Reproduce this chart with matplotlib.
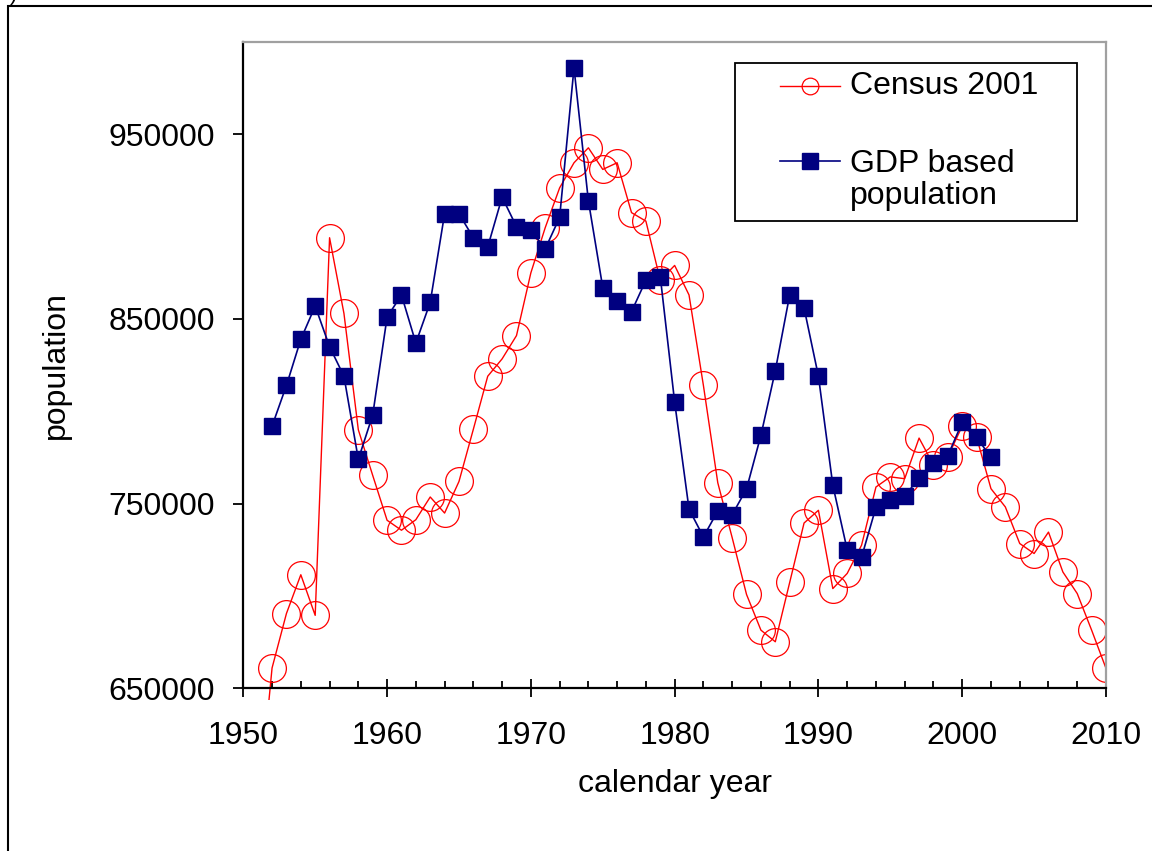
"""Census 2001 vs GDP-based population by calendar year (Excel-style line chart)."""
import matplotlib
matplotlib.use("Agg")
import matplotlib.pyplot as plt
from matplotlib.lines import Line2D
from matplotlib.patches import Rectangle
from matplotlib.ticker import MultipleLocator
from matplotlib.transforms import Bbox, TransformedBbox

plt.rcParams["font.family"] = ["Liberation Sans", "DejaVu Sans"]

# ---- data ----
census_label = "Census 2001"
census_years = list(range(1951, 2011))
census_pop = [580000, 661000, 690500, 711500, 689500, 894000, 853000, 790000, 765300, 741000,
              735600, 741300, 753600, 744900, 762000, 790300, 819000, 828400, 841000, 875000,
              899500, 921000, 934600, 942700, 931000, 934600, 907600, 903000, 871000, 879000,
              863000, 814000, 761300, 731600, 700800, 681500, 675200, 707300, 739500, 746400,
              704000, 712200, 727500, 759000, 764500, 763500, 785500, 771000, 775400, 792000,
              786000, 758100, 748200, 728400, 723000, 734600, 713000, 701300, 681500, 660800]

gdp_label = "GDP based\npopulation"
gdp_years = list(range(1952, 2003))
gdp_pop = [792000, 814000, 839000, 857000, 835000, 819000, 774000, 798000, 851000, 863000,
           837000, 859000, 907000, 907000, 894000, 889000, 916000, 900000, 898000, 888000,
           905000, 986000, 914000, 867000, 860000, 854000, 871000, 873000, 805000, 747000,
           732000, 746000, 744000, 758000, 787000, 822000, 863000, 856000, 819000, 760000,
           725000, 721000, 748000, 752000, 754000, 764000, 772000, 776000, 794000, 786000,
           775000]

y_ticks = [650000, 750000, 850000, 950000]
x_ticks = [1950, 1960, 1970, 1980, 1990, 2000, 2010]

W, H = 1152, 851
RED, NAVY = "#ff0000", "#000080"
FS = 23

fig = plt.figure(figsize=(W / 100, H / 100), dpi=100, facecolor="white")
ax = fig.add_axes([243.3 / W, 1 - 688.3 / H, (1106 - 243.3) / W, (688.3 - 42) / H])

cl, = ax.plot(census_years, census_pop, color=RED, lw=1.0, marker="o", ms=20,
              mfc="none", mec=RED, mew=0.9, zorder=2)
# Excel lets the first census segment poke a little below the x axis
cl.set_clip_path(None)
cl.set_clip_box(TransformedBbox(Bbox([[0, -0.018], [1, 1]]), ax.transAxes))

ax.plot(gdp_years, gdp_pop, color=NAVY, lw=1.2, marker="s", ms=11,
        mfc=NAVY, mec=NAVY, zorder=3)

ax.set_xlim(1950, 2010)
ax.set_ylim(650000, 1000000)
ax.set_xticks(x_ticks)
ax.xaxis.set_minor_locator(MultipleLocator(2))
ax.set_yticks(y_ticks)
ax.set_yticklabels([str(v) for v in y_ticks])

ax.tick_params(axis="x", which="major", direction="inout", length=13, width=1.3,
               pad=17, labelsize=FS, colors="black")
ax.tick_params(axis="x", which="minor", direction="in", length=5, width=1.3)
ax.tick_params(axis="y", which="major", direction="out", length=7.5, width=1.3,
               pad=13, labelsize=FS)

for s in ("left", "bottom"):
    ax.spines[s].set_color("black")
    ax.spines[s].set_linewidth(1.6)
for s in ("top", "right"):
    ax.spines[s].set_color("#a0a0a0")
    ax.spines[s].set_linewidth(1.6)

ax.set_xlabel("calendar year", fontsize=FS)
ax.xaxis.set_label_coords(0.5, -0.125)
ax.set_ylabel("population", fontsize=FS)
ax.yaxis.set_label_coords(-0.2, 0.5)

# ---- Excel-style legend box drawn in figure pixels ----
def fx(px):
    return px / W


def fy(py):
    return 1 - py / H


fig.add_artist(Rectangle((fx(735), fy(221)), fx(1077) - fx(735), fy(63) - fy(221),
                         transform=fig.transFigure, fill=False, ec="black", lw=1.3))
fig.add_artist(Line2D([fx(780), fx(840)], [fy(86), fy(86)], color=RED, lw=1.0))
fig.add_artist(Line2D([fx(810)], [fy(86)], marker="o", ms=12, mfc="none", mec=RED, mew=0.9))
fig.text(fx(850), fy(86), census_label, fontsize=FS, va="center", ha="left")
fig.add_artist(Line2D([fx(780), fx(840)], [fy(161), fy(161)], color=NAVY, lw=1.2))
fig.add_artist(Line2D([fx(810)], [fy(161)], marker="s", ms=11, mfc=NAVY, mec=NAVY))
fig.text(fx(850), fy(180), gdp_label, fontsize=FS, va="center", ha="left", linespacing=1.12)

# outer chart-area frame (cut off at the right and bottom of the picture)
fig.add_artist(Rectangle((fx(8), fy(870)), fx(1170) - fx(8), fy(6) - fy(870),
                         transform=fig.transFigure, fill=False, ec="black", lw=1.5))
# tail of a caption character peeking in at the top-left corner
fig.text(fx(10), fy(5), ")", fontsize=16, va="bottom", ha="left")

fig.savefig("out.png", dpi=100, facecolor="white")
